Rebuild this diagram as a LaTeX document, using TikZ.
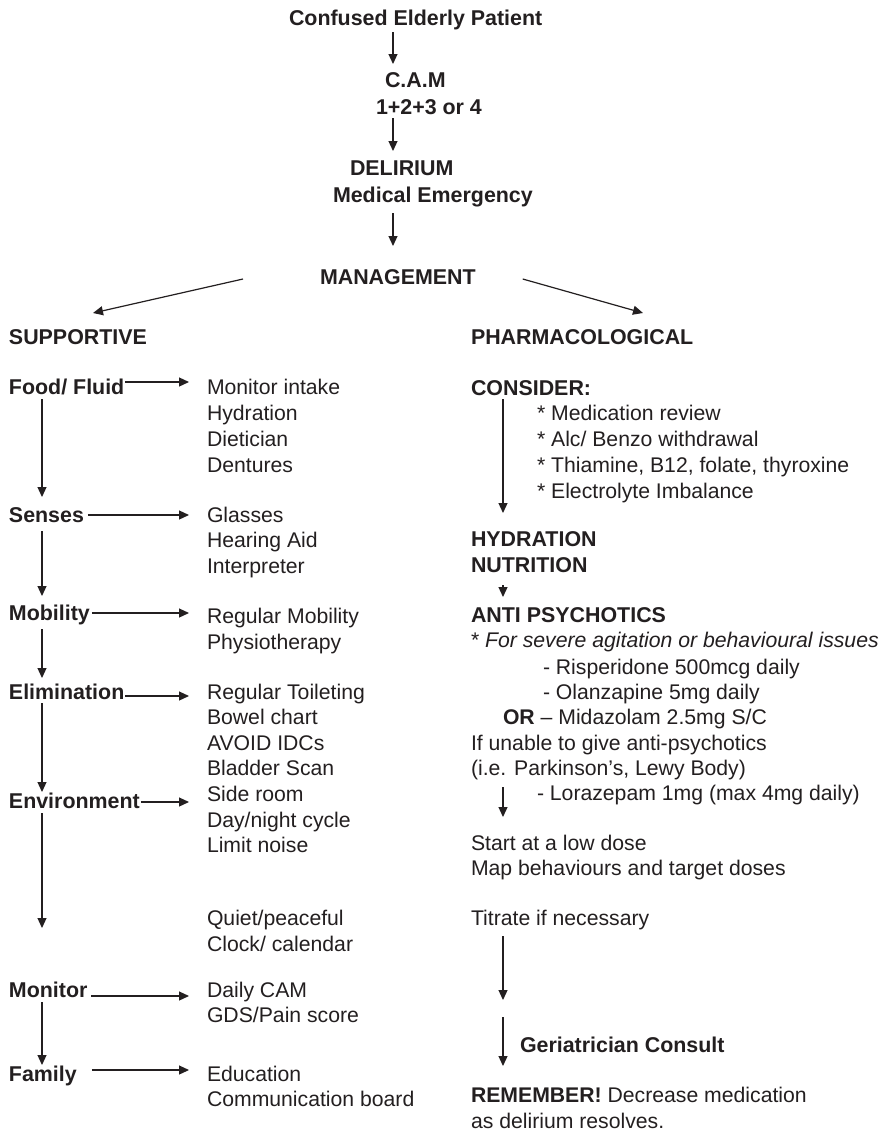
\documentclass[tikz,border=0pt]{standalone}
\usepackage{fontspec}
\setmainfont{Liberation Sans}
\usetikzlibrary{arrows.meta}
\definecolor{ink}{RGB}{35,31,32}
\begin{document}
\begin{tikzpicture}[x=1pt,y=-1pt,
  every node/.style={inner sep=0pt,outer sep=0pt,text height=15pt,text depth=0pt,anchor=west,
    font=\fontsize{21.2}{25.7}\selectfont,text=ink},
  bold/.style={font=\fontsize{21.4}{25.7}\selectfont\bfseries},
  arr/.style={draw=ink,line width=1.2pt,-{Triangle[length=10pt,width=9pt]}}]
\useasboundingbox[fill=white] (0,0) rectangle (885,1133);
\coordinate (spine) at (393,0);
\coordinate (lspine) at (42,0);
\coordinate (rspine) at (503,0);
% top
\node[bold] (conf) at (289,18) {Confused Elderly Patient};
\node[bold] (cam) at (385,80) {C.A.M};
\node[bold] (num) at (376,107) {1+2+3 or 4};
\node[bold] (del) at (350,168) {DELIRIUM};
\node[bold] (medem) at (333,195) {Medical Emergency};
\node[bold] (mgmt) at (320,277) {MANAGEMENT};
\draw[arr,shorten <=6.5pt,shorten >=8.5pt] (conf.south -| spine) -- (cam.north -| spine);
\draw[arr,shorten <=3.5pt,shorten >=9.5pt] (num.south -| spine) -- (del.north -| spine);
\draw[arr,shorten <=10.5pt,shorten >=23.5pt] (medem.south -| spine) -- (mgmt.north -| spine);
\node[bold] (sup) at (9,337) {SUPPORTIVE};
\node[bold] (pharm) at (471,337) {PHARMACOLOGICAL};
\draw[arr] ([xshift=-77pt,yshift=-2pt]mgmt.west) -- ([xshift=84pt,yshift=16.5pt]sup.north west);
\draw[arr] ([xshift=47pt,yshift=-2pt]mgmt.east) -- ([xshift=172pt,yshift=16.5pt]pharm.north west);
% left column labels
\node[bold] (food) at (9,387) {Food/ Fluid};
\node[bold] (senses) at (9,515) {Senses};
\node[bold] (mob) at (9,613) {Mobility};
\node[bold] (elim) at (9,692) {Elimination};
\node[bold] (env) at (9,801) {Environment};
\node[bold] (mon) at (9,990) {Monitor};
\node[bold] (fam) at (9,1074) {Family};
\coordinate (lend) at (42,928);
% left column items
\node (f1) at (207,387) {Monitor intake};
\node (f2) at (207,413) {Hydration};
\node (f3) at (207,439) {Dietician};
\node (f4) at (207,465) {Dentures};
\node (s1) at (207,515) {Glasses};
\node (s2) at (207,540) {Hearing Aid};
\node (s3) at (207,566) {Interpreter};
\node (m1) at (207,616) {Regular Mobility};
\node (m2) at (207,642) {Physiotherapy};
\node (e1) at (207,692) {Regular Toileting};
\node (e2) at (207,717) {Bowel chart};
\node (e3) at (207,743) {AVOID IDCs};
\node (e4) at (207,768) {Bladder Scan};
\node (v1) at (207,794) {Side room};
\node (v2) at (207,820) {Day/night cycle};
\node (v3) at (207,845) {Limit noise};
\node (q1) at (207,918) {Quiet/peaceful};
\node (q2) at (207,944) {Clock/ calendar};
\node (o1) at (207,990) {Daily CAM};
\node (o2) at (207,1015) {GDS/Pain score};
\node (a1) at (207,1074) {Education};
\node (a2) at (207,1099) {Communication board};
% left horizontal arrows
\draw[arr,shorten <=1pt,shorten >=18pt] ([yshift=5pt]food.east) -- ([yshift=5pt]food.east -| f1.west);
\draw[arr,shorten <=4pt,shorten >=18pt] (senses.east) -- (senses.east -| s1.west);
\draw[arr,shorten <=2pt,shorten >=18pt] (mob.east) -- (mob.east -| m1.west);
\draw[arr,shorten <=1pt,shorten >=18pt] ([yshift=-4pt]elim.east) -- ([yshift=-4pt]elim.east -| e1.west);
\draw[arr,shorten <=1pt,shorten >=18pt] ([yshift=-1pt]env.east) -- ([yshift=-1pt]env.east -| v1.west);
\draw[arr,shorten <=4pt,shorten >=18pt] ([yshift=-6pt]mon.east) -- ([yshift=-6pt]mon.east -| o1.west);
\draw[arr,shorten <=15pt,shorten >=18pt] ([yshift=4pt]fam.east) -- ([yshift=4pt]fam.east -| a1.west);
% left vertical arrows
\draw[arr,shorten <=4.5pt,shorten >=10.5pt] (food.south -| lspine) -- (senses.north -| lspine);
\draw[arr,shorten <=8.5pt,shorten >=9.5pt] (senses.south -| lspine) -- (mob.north -| lspine);
\draw[arr,shorten <=8.5pt,shorten >=6.5pt] (mob.south -| lspine) -- (elim.north -| lspine);
\draw[arr,shorten <=3.5pt,shorten >=1.5pt] (elim.south -| lspine) -- (env.north -| lspine);
\draw[arr,shorten <=4.5pt] (env.south -| lspine) -- (lend);
\draw[arr,shorten <=4.5pt,shorten >=1.5pt] (mon.south -| lspine) -- (fam.north -| lspine);
% right column
\node[bold] (cons) at (471,388) {CONSIDER:};
\node (c1) at (537,413) {* Medication review};
\node (c2) at (537,439) {* Alc/ Benzo withdrawal};
\node (c3) at (537,465) {* Thiamine, B12, folate, thyroxine};
\node (c4) at (537,491) {* Electrolyte Imbalance};
\node[bold] (hyd) at (471,539) {HYDRATION};
\node[bold] (nut) at (471,565) {NUTRITION};
\node[bold] (anti) at (471,615) {ANTI PSYCHOTICS};
\node (note) at (471,640) {* \textit{For severe agitation or behavioural issues}};
\node (risp) at (543,667) {- Risperidone 500mcg daily};
\node (olan) at (543,692) {- Olanzapine 5mg daily};
\node (mida) at (503,717) {\textbf{OR} – Midazolam 2.5mg S/C};
\node (unab) at (471,743) {If unable to give anti-psychotics};
\node (ie) at (471,768) {(i.e. Parkinson’s, Lewy Body)};
\node (lora) at (537,793) {- Lorazepam 1mg (max 4mg daily)};
\node (start) at (471,843) {Start at a low dose};
\node (map) at (471,868) {Map behaviours and target doses};
\node (titr) at (471,918) {Titrate if necessary};
\node[bold] (geri) at (520,1045) {Geriatrician Consult};
\node (rem) at (471,1095) {\textbf{REMEMBER!} Decrease medication};
\node (res) at (471,1121) {as delirium resolves.};
\coordinate (rend) at (503,1000);
\coordinate (rstart) at (503,1017);
\draw[arr,shorten <=3.5pt,shorten >=18.5pt] (cons.south -| rspine) -- (hyd.north -| rspine);
\draw[arr,shorten <=12.5pt,shorten >=10.5pt] (nut.south -| rspine) -- (anti.north -| rspine);
\draw[arr,shorten <=11.5pt,shorten >=18.5pt] (ie.south -| rspine) -- (start.north -| rspine);
\draw[arr,shorten <=10.5pt] (titr.south -| rspine) -- (rend);
\draw[arr,shorten >=21.5pt] (rstart) -- (rem.north -| rspine);
\end{tikzpicture}
\end{document}
